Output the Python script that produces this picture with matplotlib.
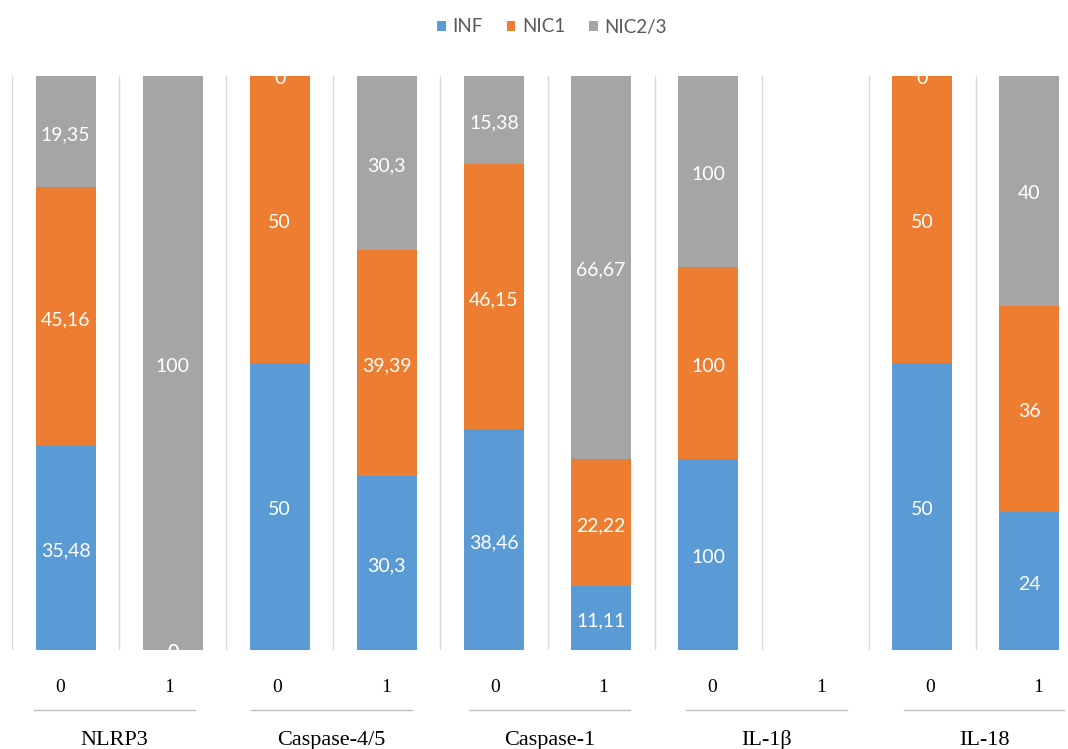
import numpy as np
import matplotlib.pyplot as plt
import matplotlib.transforms as mtransforms

plt.rcParams['font.family'] = ['Lato', 'DejaVu Sans']

groups = ["NLRP3", "Caspase-4/5", "Caspase-1", "IL-1β", "IL-18"]
levels = ["0", "1"]
series = ["INF", "NIC1", "NIC2/3"]
inf = [35.48, 0, 50, 30.3, 38.46, 11.11, 100, 0, 50, 24]
nic1 = [45.16, 0, 50, 39.39, 46.15, 22.22, 100, 0, 50, 36]
nic23 = [19.35, 100, 0, 30.3, 15.38, 66.67, 100, 0, 0, 40]
colors = ["#5B9BD5", "#ED7D31", "#A5A5A5"]

# 100% stacked: each bar is scaled to its own total
vals = np.array([inf, nic1, nic23], dtype=float)
totals = vals.sum(axis=0)
shares = np.divide(vals, totals, out=np.zeros_like(vals), where=totals > 0) * 100

fig = plt.figure(figsize=(10.68, 7.49), dpi=100)
ax = fig.add_axes([12 / 1068, 99 / 749, 1071 / 1068, 574 / 749])
# nudge value labels down a little so digits sit visually centred
label_tr = mtransforms.offset_copy(ax.transData, fig=fig, y=-3, units='dots')
x = np.arange(len(inf))
bottom = np.zeros(len(x))
for name, raw, share, color in zip(series, vals, shares, colors):
    ax.bar(x, share, 0.56, bottom=bottom, color=color, label=name, zorder=2)
    for xi, b, s, v in zip(x, bottom, share, raw):
        ax.text(xi, b + s / 2, f"{v:g}".replace(".", ","), ha='center', va='center',
                color='white', fontsize=14, zorder=3, clip_on=False, transform=label_tr)
    bottom += share

ax.set_xlim(-0.5, len(x) - 0.5)
ax.set_ylim(0, 100)
ax.set_xticks(np.arange(len(x)) - 0.5, labels=[])
ax.grid(axis='x', color='#D9D9D9', lw=1, zorder=1)
ax.tick_params(length=0)
ax.set_yticks([])
for sp in ax.spines.values():
    sp.set_visible(False)

# two-level category labels underneath
lab = fig.add_axes([5.7 / 1068, 0, 1087 / 1068, 90 / 749])
lab.set_xlim(-0.5, len(x) - 0.5)
lab.set_ylim(0, 90)
lab.axis('off')
for xi in x:
    lab.text(xi, 57, levels[xi % 2], ha='center', va='baseline',
             family='Liberation Serif', fontsize=14, color='black')
for k, g in enumerate(groups):
    c = 2 * k + 0.5
    lab.plot([c - 0.74, c + 0.74], [39, 39], color='#BFBFBF', lw=1)
    lab.text(c, 4, g, ha='center', va='baseline',
             family='Liberation Serif', fontsize=16, color='black')

handles, labels = ax.get_legend_handles_labels()
fig.legend(handles, labels, loc='center', bbox_to_anchor=(552 / 1068, 1 - 27 / 749),
           ncol=3, frameon=False, fontsize=13.5, labelcolor='#595959',
           handlelength=0.45, handleheight=0.45, handletextpad=0.35, columnspacing=1.3)

fig.savefig('out.png', dpi=100)
